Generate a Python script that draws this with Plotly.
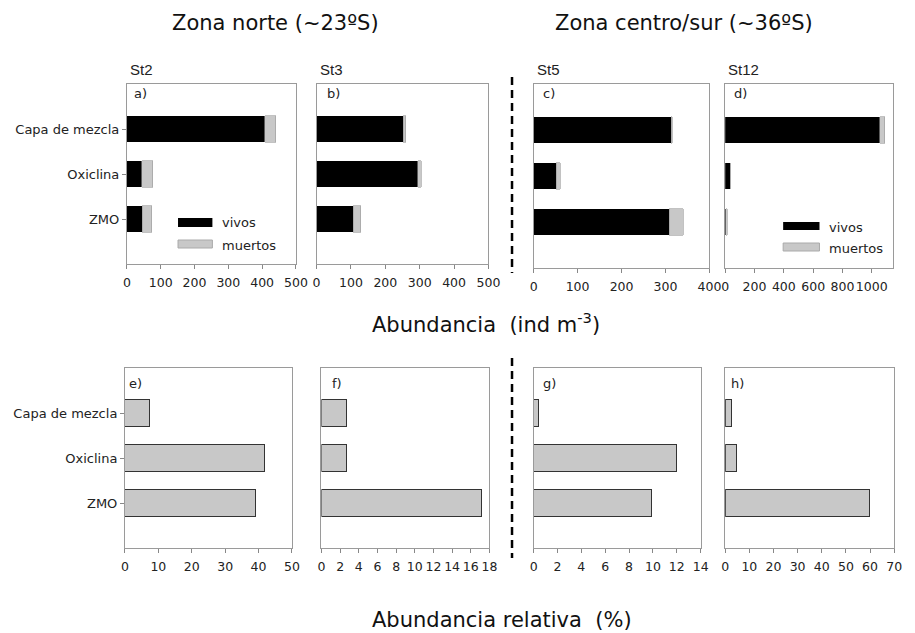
import plotly.graph_objects as go

# page offset of the plot div (browser body margin)
OFF = 8
W, H = 915 - OFF, 633 - OFF

# ---------------- data ----------------
categorias = ["Capa de mezcla", "Oxiclina", "ZMO"]
cat_pos = [3, 2, 1]

estaciones = ["St2", "St3", "St5", "St12"]
paneles_sup = ["a)", "b)", "c)", "d)"]
paneles_inf = ["e)", "f)", "g)", "h)"]

vivos_st2 = [408, 44, 46]
muertos_st2 = [32, 32, 27]
vivos_st3 = [252, 295, 107]
muertos_st3 = [8, 10, 22]
vivos_st5 = [313, 51, 308]
muertos_st5 = [2, 9, 32]
vivos_st12 = [1054, 34, 5]
muertos_st12 = [36, 2, 9]

rel_st2 = [7.2, 41.9, 39.1]
rel_st3 = [2.7, 2.7, 17.2]
rel_st5 = [0.4, 12.0, 9.9]
rel_st12 = [2.7, 4.8, 59.6]

max_abs = [500, 500, 400, 1146]
ticks_abs = [[0, 100, 200, 300, 400, 500],
             [0, 100, 200, 300, 400, 500],
             [0, 100, 200, 300, 400],
             [0, 200, 400, 600, 800, 1000]]
max_rel = [50, 18, 14, 70]
ticks_rel = [[0, 10, 20, 30, 40, 50],
             [0, 2, 4, 6, 8, 10, 12, 14, 16, 18],
             [0, 2, 4, 6, 8, 10, 12, 14],
             [0, 10, 20, 30, 40, 50, 60, 70]]

vivos = [vivos_st2, vivos_st3, vivos_st5, vivos_st12]
muertos = [muertos_st2, muertos_st3, muertos_st5, muertos_st12]
relativa = [rel_st2, rel_st3, rel_st5, rel_st12]

# ---------------- layout geometry (window pixels) ----------------
top_x = [(125, 297), (318, 493), (539, 718), (734, 905)]
top_y = [(84, 264), (84, 264), (84, 268), (84, 268)]
bot_x = [(123, 293), (323, 494), (539, 709), (734, 906)]
bot_y = [(368, 548)] * 4

FONT = "DejaVu Sans"
GRAY = "#c8c8c8"


def px(x):
    return (x - OFF) / W


def py(y):
    return 1 - (y - OFF) / H


fig = go.Figure()
layout = dict(
    width=W, height=H, autosize=False,
    margin=dict(l=0, r=0, t=0, b=0),
    paper_bgcolor="white", plot_bgcolor="white",
    barmode="stack", showlegend=False,
    font=dict(family=FONT, size=13, color="#222"),
)


def axis_pair(idx, xd, yd, xmax, xticks, show_cats):
    sfx = "" if idx == 1 else str(idx)
    xa = dict(domain=[px(xd[0]), px(xd[1])], range=[0, xmax], tickvals=xticks,
              tickangle=0, ticks="outside", ticklen=4, tickcolor="#888",
              ticklabelstandoff=3,
              linecolor="#9a9a9a", linewidth=1, mirror=True, showgrid=False,
              zeroline=False, tickfont=dict(family=FONT, size=12.5, color="#222"),
              anchor="y" + sfx, fixedrange=True)
    ya = dict(domain=[py(yd[1]), py(yd[0])], range=[0, 4], tickvals=cat_pos,
              ticktext=categorias, showticklabels=show_cats,
              ticks="outside" if show_cats else "", ticklen=4, tickcolor="#888",
              linecolor="#9a9a9a", linewidth=1, mirror=True, showgrid=False,
              zeroline=False, tickfont=dict(family=FONT, size=13, color="#222"),
              anchor="x" + sfx, fixedrange=True)
    layout["xaxis" + sfx] = xa
    layout["yaxis" + sfx] = ya
    return "x" + sfx, "y" + sfx


annotations = []
shapes = []

for i in range(4):
    # top row: absolute abundance (stacked)
    xr, yr = axis_pair(i + 1, top_x[i], top_y[i], max_abs[i], ticks_abs[i], i == 0)
    fig.add_trace(go.Bar(x=vivos[i], y=cat_pos, orientation="h", width=0.58,
                         marker=dict(color="black", line=dict(width=0)),
                         xaxis=xr, yaxis=yr, name="vivos"))
    fig.add_trace(go.Bar(x=muertos[i], y=cat_pos, orientation="h", width=0.58,
                         marker=dict(color=GRAY, line=dict(color="#999", width=0.6)),
                         xaxis=xr, yaxis=yr, name="muertos"))
    # bottom row: relative abundance
    xr2, yr2 = axis_pair(i + 5, bot_x[i], bot_y[i], max_rel[i], ticks_rel[i], i == 0)
    fig.add_trace(go.Bar(x=relativa[i], y=cat_pos, orientation="h", width=0.58,
                         marker=dict(color=GRAY, line=dict(color="#333", width=1)),
                         xaxis=xr2, yaxis=yr2, name="relativa"))

# panel letters and station labels
off_top = [5, 9, 8, 7]
off_bot = [2, 9, 7, 4]
for i in range(4):
    annotations.append(dict(text=paneles_sup[i], x=px(top_x[i][0] + off_top[i]), y=py(93),
                            xref="paper", yref="paper", xanchor="left", yanchor="middle",
                            showarrow=False, font=dict(family=FONT, size=13, color="#222")))
    annotations.append(dict(text=paneles_inf[i], x=px(bot_x[i][0] + off_bot[i]), y=py(383),
                            xref="paper", yref="paper", xanchor="left", yanchor="middle",
                            showarrow=False, font=dict(family=FONT, size=13, color="#222")))
    annotations.append(dict(text=estaciones[i], x=px(top_x[i][0] + 1), y=py(69),
                            xref="paper", yref="paper", xanchor="left", yanchor="middle",
                            showarrow=False,
                            font=dict(family="Liberation Sans", size=15, color="#222")))

# titles
annotations += [
    dict(text="Zona norte (~23ºS)", x=px(276), y=py(23), xref="paper", yref="paper",
         xanchor="center", yanchor="middle", showarrow=False,
         font=dict(family=FONT, size=21, color="#111")),
    dict(text="Zona centro/sur (~36ºS)", x=px(692), y=py(23), xref="paper", yref="paper",
         xanchor="center", yanchor="middle", showarrow=False,
         font=dict(family=FONT, size=21, color="#111")),
    dict(text="Abundancia\u00a0\u00a0(ind m<sup>-3</sup>)", x=px(491), y=py(323),
         xref="paper", yref="paper", xanchor="center", yanchor="middle", showarrow=False,
         font=dict(family=FONT, size=21, color="#111")),
    dict(text="Abundancia relativa\u00a0\u00a0(%)", x=px(507), y=py(620),
         xref="paper", yref="paper", xanchor="center", yanchor="middle", showarrow=False,
         font=dict(family=FONT, size=21, color="#111")),
]

# legends (manual swatches)
leg_specs = [
    (177, 212, 218, 227, 240, 248, 220, 223, 245),
    (793, 830, 222, 230, 243, 251, 838, 227, 248),
]
for (x0, x1, by0, by1, gy0, gy1, tx, tyv, tym) in leg_specs:
    shapes.append(dict(type="rect", xref="paper", yref="paper", x0=px(x0), x1=px(x1),
                       y0=py(by1), y1=py(by0), fillcolor="black", line=dict(width=0)))
    shapes.append(dict(type="rect", xref="paper", yref="paper", x0=px(x0), x1=px(x1),
                       y0=py(gy1), y1=py(gy0), fillcolor=GRAY,
                       line=dict(color="#aaa", width=1)))
    annotations.append(dict(text="vivos", x=px(tx), y=py(tyv), xref="paper", yref="paper",
                            xanchor="left", yanchor="middle", showarrow=False,
                            font=dict(family=FONT, size=13, color="#222")))
    annotations.append(dict(text="muertos", x=px(tx), y=py(tym), xref="paper", yref="paper",
                            xanchor="left", yanchor="middle", showarrow=False,
                            font=dict(family=FONT, size=13, color="#222")))

# dashed separators
for (y0, y1) in [(77, 273), (358, 558)]:
    shapes.append(dict(type="line", xref="paper", yref="paper", x0=px(517), x1=px(517),
                       y0=py(y0), y1=py(y1),
                       line=dict(color="black", width=2.5, dash="8px,5px")))

layout["annotations"] = annotations
layout["shapes"] = shapes
fig.update_layout(**layout)
fig.write_html("out.html")
